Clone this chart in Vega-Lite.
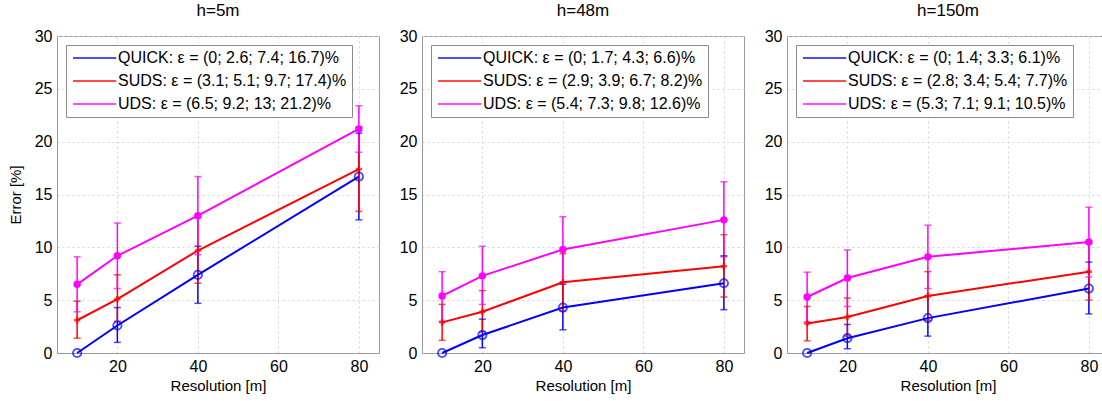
{
  "$schema": "https://vega.github.io/schema/vega-lite/v6.json",
  "padding": {"left": 7, "right": 5, "top": 1, "bottom": 5},
  "datasets": {
    "d": [
      {"panel": "h=5m", "label": "QUICK: ε = (0; 2.6; 7.4; 16.7)%", "series": "QUICK", "res": 10, "err": 0, "lo": null, "hi": null},
      {"panel": "h=5m", "label": "QUICK: ε = (0; 2.6; 7.4; 16.7)%", "series": "QUICK", "res": 20, "err": 2.6, "lo": 1.0, "hi": 4.3},
      {"panel": "h=5m", "label": "QUICK: ε = (0; 2.6; 7.4; 16.7)%", "series": "QUICK", "res": 40, "err": 7.4, "lo": 4.7, "hi": 10.1},
      {"panel": "h=5m", "label": "QUICK: ε = (0; 2.6; 7.4; 16.7)%", "series": "QUICK", "res": 80, "err": 16.7, "lo": 12.6, "hi": 20.8},
      {"panel": "h=5m", "label": "SUDS: ε = (3.1; 5.1; 9.7; 17.4)%", "series": "SUDS", "res": 10, "err": 3.1, "lo": 1.4, "hi": 4.9},
      {"panel": "h=5m", "label": "SUDS: ε = (3.1; 5.1; 9.7; 17.4)%", "series": "SUDS", "res": 20, "err": 5.1, "lo": 3.0, "hi": 7.4},
      {"panel": "h=5m", "label": "SUDS: ε = (3.1; 5.1; 9.7; 17.4)%", "series": "SUDS", "res": 40, "err": 9.7, "lo": 6.6, "hi": 12.8},
      {"panel": "h=5m", "label": "SUDS: ε = (3.1; 5.1; 9.7; 17.4)%", "series": "SUDS", "res": 80, "err": 17.4, "lo": 13.4, "hi": 21.4},
      {"panel": "h=5m", "label": "UDS: ε = (6.5; 9.2; 13; 21.2)%", "series": "UDS", "res": 10, "err": 6.5, "lo": 3.9, "hi": 9.1},
      {"panel": "h=5m", "label": "UDS: ε = (6.5; 9.2; 13; 21.2)%", "series": "UDS", "res": 20, "err": 9.2, "lo": 6.1, "hi": 12.3},
      {"panel": "h=5m", "label": "UDS: ε = (6.5; 9.2; 13; 21.2)%", "series": "UDS", "res": 40, "err": 13.0, "lo": 9.3, "hi": 16.7},
      {"panel": "h=5m", "label": "UDS: ε = (6.5; 9.2; 13; 21.2)%", "series": "UDS", "res": 80, "err": 21.2, "lo": 19.0, "hi": 23.4},

      {"panel": "h=48m", "label": "QUICK: ε = (0; 1.7; 4.3; 6.6)%", "series": "QUICK", "res": 10, "err": 0, "lo": null, "hi": null},
      {"panel": "h=48m", "label": "QUICK: ε = (0; 1.7; 4.3; 6.6)%", "series": "QUICK", "res": 20, "err": 1.7, "lo": 0.5, "hi": 3.2},
      {"panel": "h=48m", "label": "QUICK: ε = (0; 1.7; 4.3; 6.6)%", "series": "QUICK", "res": 40, "err": 4.3, "lo": 2.2, "hi": 6.5},
      {"panel": "h=48m", "label": "QUICK: ε = (0; 1.7; 4.3; 6.6)%", "series": "QUICK", "res": 80, "err": 6.6, "lo": 4.1, "hi": 9.2},
      {"panel": "h=48m", "label": "SUDS: ε = (2.9; 3.9; 6.7; 8.2)%", "series": "SUDS", "res": 10, "err": 2.9, "lo": 1.2, "hi": 4.6},
      {"panel": "h=48m", "label": "SUDS: ε = (2.9; 3.9; 6.7; 8.2)%", "series": "SUDS", "res": 20, "err": 3.9, "lo": 2.0, "hi": 5.9},
      {"panel": "h=48m", "label": "SUDS: ε = (2.9; 3.9; 6.7; 8.2)%", "series": "SUDS", "res": 40, "err": 6.7, "lo": 4.0, "hi": 9.4},
      {"panel": "h=48m", "label": "SUDS: ε = (2.9; 3.9; 6.7; 8.2)%", "series": "SUDS", "res": 80, "err": 8.2, "lo": 5.3, "hi": 11.2},
      {"panel": "h=48m", "label": "UDS: ε = (5.4; 7.3; 9.8; 12.6)%", "series": "UDS", "res": 10, "err": 5.4, "lo": 3.0, "hi": 7.7},
      {"panel": "h=48m", "label": "UDS: ε = (5.4; 7.3; 9.8; 12.6)%", "series": "UDS", "res": 20, "err": 7.3, "lo": 4.6, "hi": 10.1},
      {"panel": "h=48m", "label": "UDS: ε = (5.4; 7.3; 9.8; 12.6)%", "series": "UDS", "res": 40, "err": 9.8, "lo": 6.7, "hi": 12.9},
      {"panel": "h=48m", "label": "UDS: ε = (5.4; 7.3; 9.8; 12.6)%", "series": "UDS", "res": 80, "err": 12.6, "lo": 9.1, "hi": 16.2},

      {"panel": "h=150m", "label": "QUICK: ε = (0; 1.4; 3.3; 6.1)%", "series": "QUICK", "res": 10, "err": 0, "lo": null, "hi": null},
      {"panel": "h=150m", "label": "QUICK: ε = (0; 1.4; 3.3; 6.1)%", "series": "QUICK", "res": 20, "err": 1.4, "lo": 0.4, "hi": 2.7},
      {"panel": "h=150m", "label": "QUICK: ε = (0; 1.4; 3.3; 6.1)%", "series": "QUICK", "res": 40, "err": 3.3, "lo": 1.6, "hi": 5.4},
      {"panel": "h=150m", "label": "QUICK: ε = (0; 1.4; 3.3; 6.1)%", "series": "QUICK", "res": 80, "err": 6.1, "lo": 3.7, "hi": 8.6},
      {"panel": "h=150m", "label": "SUDS: ε = (2.8; 3.4; 5.4; 7.7)%", "series": "SUDS", "res": 10, "err": 2.8, "lo": 1.15, "hi": 4.4},
      {"panel": "h=150m", "label": "SUDS: ε = (2.8; 3.4; 5.4; 7.7)%", "series": "SUDS", "res": 20, "err": 3.4, "lo": 1.6, "hi": 5.2},
      {"panel": "h=150m", "label": "SUDS: ε = (2.8; 3.4; 5.4; 7.7)%", "series": "SUDS", "res": 40, "err": 5.4, "lo": 3.1, "hi": 7.7},
      {"panel": "h=150m", "label": "SUDS: ε = (2.8; 3.4; 5.4; 7.7)%", "series": "SUDS", "res": 80, "err": 7.7, "lo": 5.0, "hi": 10.4},
      {"panel": "h=150m", "label": "UDS: ε = (5.3; 7.1; 9.1; 10.5)%", "series": "UDS", "res": 10, "err": 5.3, "lo": 2.95, "hi": 7.65},
      {"panel": "h=150m", "label": "UDS: ε = (5.3; 7.1; 9.1; 10.5)%", "series": "UDS", "res": 20, "err": 7.1, "lo": 4.4, "hi": 9.75},
      {"panel": "h=150m", "label": "UDS: ε = (5.3; 7.1; 9.1; 10.5)%", "series": "UDS", "res": 40, "err": 9.1, "lo": 6.1, "hi": 12.1},
      {"panel": "h=150m", "label": "UDS: ε = (5.3; 7.1; 9.1; 10.5)%", "series": "UDS", "res": 80, "err": 10.5, "lo": 7.2, "hi": 13.8}
    ]
  },
  "config": {
    "font": "Liberation Sans",
    "view": {"stroke": "#9a9a9a", "strokeWidth": 1},
    "axis": {
      "labelFontSize": 16, "labelColor": "#000", "titleFontSize": 15, "titleFontWeight": "normal", "titleColor": "#000",
      "domainColor": "#9a9a9a", "ticks": false, "labelPadding": 5,
      "gridColor": "#d4d4d4", "gridDash": [2, 3], "gridWidth": 1
    },
    "axisY": {"titlePadding": 11},
    "title": {"fontSize": 17, "fontWeight": "normal", "color": "#000", "offset": 8},
    "legend": {
      "orient": "top-left", "offset": 9, "strokeColor": "#8a8a8a", "fillColor": "#ffffff", "padding": 5,
      "rowPadding": 7, "labelFontSize": 16, "labelColor": "#000", "labelLimit": 500,
      "symbolType": "M-1,0H6.2", "symbolSize": 144, "symbolStrokeWidth": 2, "labelOffset": 31
    }
  },
  "spacing": 43,
  "bounds": "flush",
  "resolve": {"scale": {"color": "independent"}, "legend": {"color": "independent"}},
  "hconcat": [
    {
      "title": "h=5m", "width": 322, "height": 317,
      "data": {"name": "d"},
      "transform": [{"filter": "datum.panel === 'h=5m'"}],
      "encoding": {
        "x": {"field": "res", "type": "quantitative", "scale": {"domain": [5, 85], "nice": false}, "axis": {"values": [20, 40, 60, 80], "title": "Resolution [m]"}},
        "color": {"field": "label", "type": "nominal", "scale": {"range": ["#0000ff", "#ff0000", "#ff00ff"]}, "legend": {"title": null}}
      },
      "layer": [
        {"mark": {"type": "rule", "strokeWidth": 1.5}, "encoding": {"y": {"field": "lo", "type": "quantitative", "scale": {"domain": [0, 30], "nice": false}, "axis": {"values": [0, 5, 10, 15, 20, 25, 30], "title": "Error [%]"}}, "y2": {"field": "hi"}}},
        {"mark": {"type": "tick", "orient": "horizontal", "size": 7, "thickness": 1.5}, "encoding": {"y": {"field": "lo", "type": "quantitative", "scale": {"domain": [0, 30], "nice": false}, "title": "Error [%]"}}},
        {"mark": {"type": "tick", "orient": "horizontal", "size": 7, "thickness": 1.5}, "encoding": {"y": {"field": "hi", "type": "quantitative", "scale": {"domain": [0, 30], "nice": false}, "title": "Error [%]"}}},
        {"mark": {"type": "line", "strokeWidth": 2}, "encoding": {"y": {"field": "err", "type": "quantitative", "scale": {"domain": [0, 30], "nice": false}, "title": "Error [%]"}}},
        {"transform": [{"filter": "datum.series === 'QUICK'"}], "mark": {"type": "point", "filled": false, "size": 70, "strokeWidth": 1.8}, "encoding": {"y": {"field": "err", "type": "quantitative", "scale": {"domain": [0, 30], "nice": false}, "title": "Error [%]"}}},
        {"transform": [{"filter": "datum.series === 'SUDS'"}], "mark": {"type": "point", "shape": "cross", "filled": true, "size": 40}, "encoding": {"y": {"field": "err", "type": "quantitative", "scale": {"domain": [0, 30], "nice": false}, "title": "Error [%]"}}},
        {"transform": [{"filter": "datum.series === 'UDS'"}], "mark": {"type": "point", "shape": "circle", "filled": true, "size": 55, "opacity": 1}, "encoding": {"y": {"field": "err", "type": "quantitative", "scale": {"domain": [0, 30], "nice": false}, "title": "Error [%]"}}}
      ]
    },
    {
      "title": "h=48m", "width": 322, "height": 317,
      "data": {"name": "d"},
      "transform": [{"filter": "datum.panel === 'h=48m'"}],
      "encoding": {
        "x": {"field": "res", "type": "quantitative", "scale": {"domain": [5, 85], "nice": false}, "axis": {"values": [20, 40, 60, 80], "title": "Resolution [m]"}},
        "color": {"field": "label", "type": "nominal", "scale": {"range": ["#0000ff", "#ff0000", "#ff00ff"]}, "legend": {"title": null}}
      },
      "layer": [
        {"mark": {"type": "rule", "strokeWidth": 1.5}, "encoding": {"y": {"field": "lo", "type": "quantitative", "scale": {"domain": [0, 30], "nice": false}, "axis": {"values": [0, 5, 10, 15, 20, 25, 30], "title": null}}, "y2": {"field": "hi"}}},
        {"mark": {"type": "tick", "orient": "horizontal", "size": 7, "thickness": 1.5}, "encoding": {"y": {"field": "lo", "type": "quantitative", "scale": {"domain": [0, 30], "nice": false}, "title": null}}},
        {"mark": {"type": "tick", "orient": "horizontal", "size": 7, "thickness": 1.5}, "encoding": {"y": {"field": "hi", "type": "quantitative", "scale": {"domain": [0, 30], "nice": false}, "title": null}}},
        {"mark": {"type": "line", "strokeWidth": 2}, "encoding": {"y": {"field": "err", "type": "quantitative", "scale": {"domain": [0, 30], "nice": false}, "title": null}}},
        {"transform": [{"filter": "datum.series === 'QUICK'"}], "mark": {"type": "point", "filled": false, "size": 70, "strokeWidth": 1.8}, "encoding": {"y": {"field": "err", "type": "quantitative", "scale": {"domain": [0, 30], "nice": false}, "title": null}}},
        {"transform": [{"filter": "datum.series === 'SUDS'"}], "mark": {"type": "point", "shape": "cross", "filled": true, "size": 40}, "encoding": {"y": {"field": "err", "type": "quantitative", "scale": {"domain": [0, 30], "nice": false}, "title": null}}},
        {"transform": [{"filter": "datum.series === 'UDS'"}], "mark": {"type": "point", "shape": "circle", "filled": true, "size": 55, "opacity": 1}, "encoding": {"y": {"field": "err", "type": "quantitative", "scale": {"domain": [0, 30], "nice": false}, "title": null}}}
      ]
    },
    {
      "title": "h=150m", "width": 322, "height": 317,
      "data": {"name": "d"},
      "transform": [{"filter": "datum.panel === 'h=150m'"}],
      "encoding": {
        "x": {"field": "res", "type": "quantitative", "scale": {"domain": [5, 85], "nice": false}, "axis": {"values": [20, 40, 60, 80], "title": "Resolution [m]"}},
        "color": {"field": "label", "type": "nominal", "scale": {"range": ["#0000ff", "#ff0000", "#ff00ff"]}, "legend": {"title": null}}
      },
      "layer": [
        {"mark": {"type": "rule", "strokeWidth": 1.5}, "encoding": {"y": {"field": "lo", "type": "quantitative", "scale": {"domain": [0, 30], "nice": false}, "axis": {"values": [0, 5, 10, 15, 20, 25, 30], "title": null}}, "y2": {"field": "hi"}}},
        {"mark": {"type": "tick", "orient": "horizontal", "size": 7, "thickness": 1.5}, "encoding": {"y": {"field": "lo", "type": "quantitative", "scale": {"domain": [0, 30], "nice": false}, "title": null}}},
        {"mark": {"type": "tick", "orient": "horizontal", "size": 7, "thickness": 1.5}, "encoding": {"y": {"field": "hi", "type": "quantitative", "scale": {"domain": [0, 30], "nice": false}, "title": null}}},
        {"mark": {"type": "line", "strokeWidth": 2}, "encoding": {"y": {"field": "err", "type": "quantitative", "scale": {"domain": [0, 30], "nice": false}, "title": null}}},
        {"transform": [{"filter": "datum.series === 'QUICK'"}], "mark": {"type": "point", "filled": false, "size": 70, "strokeWidth": 1.8}, "encoding": {"y": {"field": "err", "type": "quantitative", "scale": {"domain": [0, 30], "nice": false}, "title": null}}},
        {"transform": [{"filter": "datum.series === 'SUDS'"}], "mark": {"type": "point", "shape": "cross", "filled": true, "size": 40}, "encoding": {"y": {"field": "err", "type": "quantitative", "scale": {"domain": [0, 30], "nice": false}, "title": null}}},
        {"transform": [{"filter": "datum.series === 'UDS'"}], "mark": {"type": "point", "shape": "circle", "filled": true, "size": 55, "opacity": 1}, "encoding": {"y": {"field": "err", "type": "quantitative", "scale": {"domain": [0, 30], "nice": false}, "title": null}}}
      ]
    }
  ]
}
